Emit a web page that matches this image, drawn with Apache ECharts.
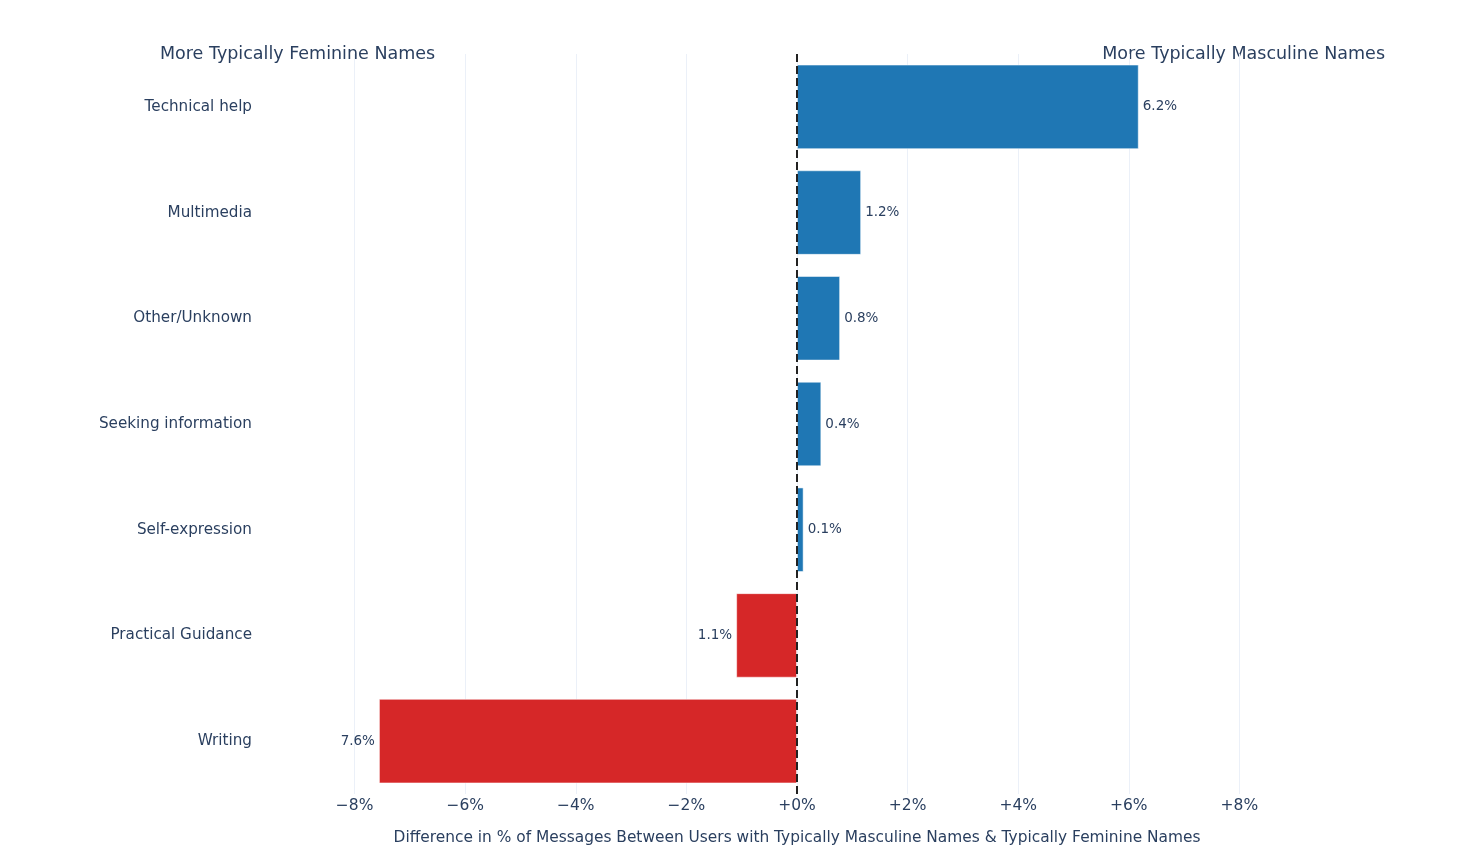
<!DOCTYPE html>
<html>
<head>
<meta charset="utf-8">
<title>Difference by name type</title>
<script src="https://cdn.jsdelivr.net/npm/echarts@6/dist/echarts.min.js"></script>
<style>
  html, body { margin: 0; padding: 0; background: #fff; }
  #chart { width: 1460px; height: 856px; }
</style>
</head>
<body>
<div id="chart"></div>
<script>
// categories, top to bottom
var categories = [
  'Technical help',
  'Multimedia',
  'Other/Unknown',
  'Seeking information',
  'Self-expression',
  'Practical Guidance',
  'Writing'
];
// difference in % (masculine minus feminine)
var diffValues = [6.18, 1.16, 0.78, 0.44, 0.12, -1.1, -7.56];
var xTicks = [-8, -6, -4, -2, 0, 2, 4, 6, 8];

var textColor = '#2a3f5f';
var font = '"DejaVu Sans", Verdana, sans-serif';

function tickLabel(v) {
  if (xTicks.indexOf(v) < 0) return '';
  if (v < 0) return '\u2212' + Math.abs(v) + '%';
  return '+' + v + '%';
}

var barData = diffValues.map(function (v) {
  return {
    value: v,
    itemStyle: { color: v < 0 ? '#d62728' : '#1f77b4' },
    label: { position: v < 0 ? 'left' : 'right' }
  };
});

var myChart = echarts.init(document.getElementById('chart'));
var option = {
  animation: false,
  textStyle: { fontFamily: font },
  grid: { left: 244, right: 110, top: 54, bottom: 62, containLabel: false },
  graphic: [
    {
      type: 'text', left: 160, top: 45,
      style: { text: 'More Typically Feminine Names', fill: textColor, font: '17.5px ' + font }
    },
    {
      type: 'text', right: 75, top: 45,
      style: { text: 'More Typically Masculine Names', fill: textColor, font: '17.5px ' + font }
    }
  ],
  xAxis: {
    type: 'value',
    min: -10,
    max: 10,
    interval: 2,
    axisLine: { show: false },
    axisTick: { show: false },
    splitLine: { show: true, showMinLine: false, showMaxLine: false, lineStyle: { color: '#ebf0f8', width: 1 } },
    axisLabel: {
      color: textColor, fontSize: 15.5, margin: 4, fontFamily: font,
      showMinLabel: false, showMaxLabel: false,
      formatter: tickLabel
    },
    name: 'Difference in % of Messages Between Users with Typically Masculine Names & Typically Feminine Names',
    nameLocation: 'middle',
    nameGap: 36,
    nameTextStyle: { color: textColor, fontSize: 15.4, fontFamily: font }
  },
  yAxis: {
    type: 'category',
    data: categories,
    inverse: true,
    axisLine: { show: false },
    axisTick: { show: false },
    splitLine: { show: false },
    axisLabel: { color: textColor, fontSize: 15.2, margin: -8, fontFamily: font }
  },
  series: [
    {
      type: 'bar',
      data: barData,
      barWidth: '80%',
      itemStyle: { borderColor: 'rgba(255,255,255,0.5)', borderWidth: 1 },
      label: {
        show: true,
        color: textColor,
        fontSize: 13.5,
        distance: 4,
        fontFamily: font,
        formatter: function (p) { return Math.abs(p.value).toFixed(1) + '%'; }
      },
      markLine: {
        silent: true,
        symbol: 'none',
        label: { show: false },
        lineStyle: { color: '#222', width: 2, type: [8, 4] },
        data: [{ xAxis: 0 }]
      }
    }
  ]
};
myChart.setOption(option);
</script>
</body>
</html>
